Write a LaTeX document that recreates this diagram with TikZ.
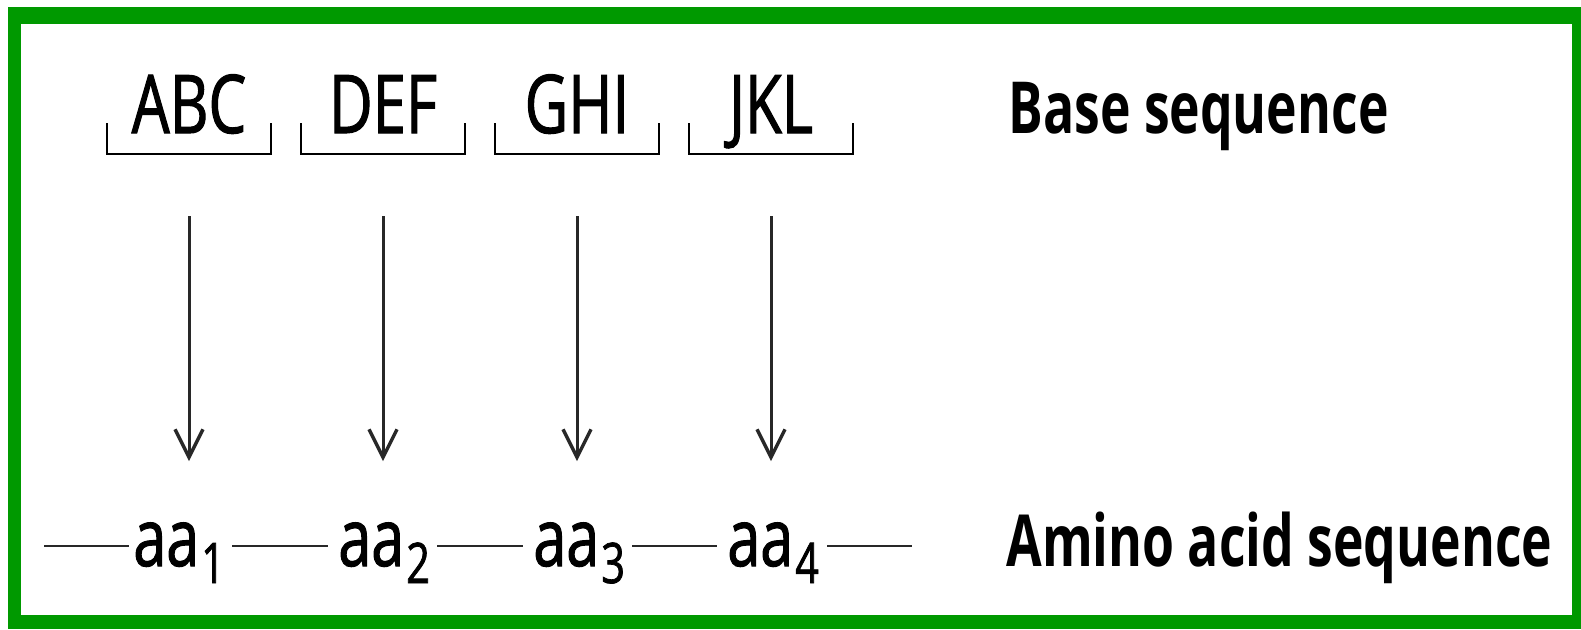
\documentclass[tikz,border=0pt]{standalone}
\usepackage{fontspec}
\setmainfont{Open Sans}[FakeStretch=0.72]
\newfontfamily\medium{Open Sans}[FakeStretch=0.74,FakeBold=1.3]
\usetikzlibrary{arrows.meta,calc}
\definecolor{framegreen}{RGB}{0,153,0}
\definecolor{ink}{RGB}{40,40,40}

\begin{document}
\begin{tikzpicture}[x=0.5pt,y=-0.5pt,
  codon/.style={anchor=base,inner sep=0pt,font=\medium\fontsize{40.5}{40.5}\selectfont},
  amino/.style={anchor=base west,inner sep=0pt,font=\medium\fontsize{40}{40}\selectfont},
  caption/.style={anchor=base west,inner sep=0pt,font=\bfseries\fontsize{35.9}{35.9}\selectfont},
  bracket/.style={draw=black,line width=1.1pt},
  arr/.style={draw=ink,line width=1.5pt,-{Straight Barb[length=14pt,width=14pt,line width=1.7pt]},
    shorten <=41.5pt,shorten >=30.5pt},
  chainline/.style={draw=ink,line width=1.3pt}]
\newcommand{\sub}[1]{\hspace{1pt}\raisebox{-8.5pt}{\fontsize{28}{28}\selectfont #1}}

% canvas and green frame
\useasboundingbox (0,0) rectangle (1581,629);
\fill[white] (0,0) rectangle (1581,629);
\fill[framegreen] (8,7) rectangle (1581,629);
\fill[white] (21,24) rectangle (1572,615);

% base triplets
\node[codon] (c1) at (189,133) {ABC};
\node[codon] (c2) at (383,133) {DEF};
\node[codon] (c3) at (577,133) {GHI};
\node[codon] (c4) at (771,133) {JKL};

% brackets under each triplet
\foreach \c in {c1,c2,c3,c4}
  \draw[bracket] ($(\c.base)+(-82,-10)$) |- ($(\c.base)+(82,21)$) -- ++(0,-31);

% amino acids
\node[amino] (a1) at (133,566) {aa\sub{1}};
\node[amino] (a2) at (338,566) {aa\sub{2}};
\node[amino] (a3) at (533,566) {aa\sub{3}};
\node[amino] (a4) at (727,566) {aa\sub{4}};

% translation arrows
\foreach \i in {1,2,3,4}
  \draw[arr] (c\i.base) -- (c\i.base |- a\i.north);

% peptide chain
\coordinate (L) at (44,546);
\coordinate (R) at (912,546);
\draw[chainline,shorten >=2pt] (L) -- (L -| a1.west);
\draw[chainline,shorten <=3.5pt,shorten >=5pt] (a1.east |- L) -- (a2.west |- L);
\draw[chainline,shorten <=3.5pt,shorten >=5pt] (a2.east |- L) -- (a3.west |- L);
\draw[chainline,shorten <=3.5pt,shorten >=5pt] (a3.east |- L) -- (a4.west |- L);
\draw[chainline,shorten <=4pt] (a4.east |- R) -- (R);

% row captions
\node[caption] (bs) at (1008,133) {Base sequence};
\node[caption] (as) at (1006,566) {Amino acid sequence};
\end{tikzpicture}
\end{document}
